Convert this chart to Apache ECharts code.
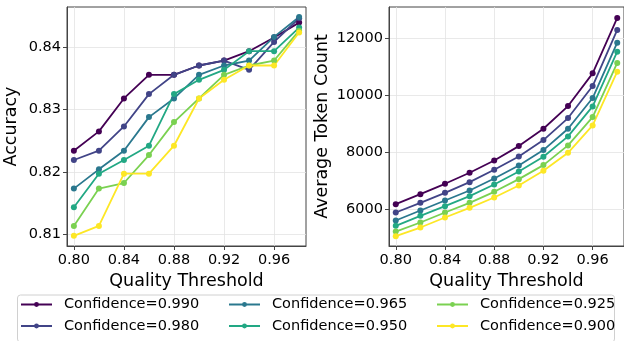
<!DOCTYPE html>
<html>
<head>
<meta charset="utf-8">
<script src="https://cdn.jsdelivr.net/npm/echarts@6/dist/echarts.min.js"></script>
<style>
  html, body { margin: 0; padding: 0; background: #fff; }
  #chart { width: 624px; height: 341px; }
</style>
</head>
<body>
<div id="chart"></div>
<script>
const thresholds = [0.80, 0.82, 0.84, 0.86, 0.88, 0.90, 0.92, 0.94, 0.96, 0.98];
const confidenceLabels = ['Confidence=0.990', 'Confidence=0.980', 'Confidence=0.965', 'Confidence=0.950', 'Confidence=0.925', 'Confidence=0.900'];
const colors = ['#440154', '#414487', '#2a788e', '#22a884', '#7ad151', '#fde725'];

const accuracy = [
  [0.8234, 0.8265, 0.8318, 0.8356, 0.8356, 0.8371, 0.8379, 0.8394, 0.8416, 0.8440],
  [0.8219, 0.8234, 0.8273, 0.8325, 0.8356, 0.8371, 0.8379, 0.8364, 0.8409, 0.8447],
  [0.8173, 0.8204, 0.8234, 0.8288, 0.8318, 0.8356, 0.8371, 0.8379, 0.8417, 0.8449],
  [0.8143, 0.8197, 0.8219, 0.8242, 0.8325, 0.8348, 0.8364, 0.8394, 0.8394, 0.8432],
  [0.8113, 0.8173, 0.8182, 0.8227, 0.8280, 0.8318, 0.8356, 0.8371, 0.8379, 0.8427],
  [0.8097, 0.8113, 0.8197, 0.8197, 0.8242, 0.8318, 0.8348, 0.8371, 0.8371, 0.8424],
];

const tokenCount = [
  [6187, 6538, 6901, 7287, 7719, 8222, 8830, 9626, 10772, 12713],
  [5895, 6234, 6585, 6959, 7392, 7860, 8433, 9205, 10327, 12292],
  [5614, 5965, 6316, 6667, 7088, 7544, 8082, 8830, 9906, 11848],
  [5427, 5778, 6117, 6468, 6877, 7333, 7848, 8561, 9614, 11532],
  [5228, 5544, 5895, 6234, 6620, 7064, 7556, 8246, 9240, 11135],
  [5064, 5368, 5719, 6058, 6421, 6842, 7357, 7988, 8947, 10830],
];

const xTicks = [0.80, 0.84, 0.88, 0.92, 0.96];
const accTicks = [0.81, 0.82, 0.83, 0.84];
const tokenTicks = [6000, 8000, 10000, 12000];

const font = 'DejaVu Sans';
const spine = '#444';

function axisBase(ticks, fmt) {
  return {
    type: 'value',
    axisLine: { show: true, lineStyle: { color: spine, width: 1 } },
    axisTick: { show: true, length: 4, lineStyle: { color: spine }, customValues: ticks },
    axisLabel: { customValues: ticks, formatter: fmt, color: '#000', fontFamily: font, fontSize: 14.5, margin: 6 },
    splitLine: { show: true, lineStyle: { color: '#e3e3e3', width: 0.8 } },
    nameLocation: 'middle',
    nameTextStyle: { color: '#000', fontFamily: font, fontSize: 17.5 },
  };
}

function xAxis(gridIndex) {
  return {
    ...axisBase(xTicks, (v) => v.toFixed(2)),
    gridIndex,
    min: 0.7945,
    max: 0.9855,
    name: 'Quality Threshold',
    nameGap: 24,
    axisLabel: { customValues: xTicks, formatter: (v) => v.toFixed(2), color: '#000', fontFamily: font, fontSize: 14.5, margin: 7 },
  };
}

function lineSeries(values, i, axisIndex) {
  return {
    type: 'line',
    name: confidenceLabels[i],
    xAxisIndex: axisIndex,
    yAxisIndex: axisIndex,
    data: thresholds.map((t, j) => [t, values[j]]),
    symbol: 'circle',
    symbolSize: 6,
    lineStyle: { color: colors[i], width: 1.8 },
    itemStyle: { color: colors[i] },
    emphasis: { disabled: true },
  };
}

function legend(names, left) {
  return {
    data: names,
    orient: 'vertical',
    left,
    top: 297,
    padding: 0,
    itemWidth: 31,
    itemHeight: 6,
    itemGap: 6.5,
    selectedMode: false,
    textStyle: { fontFamily: font, fontSize: 14.5, color: '#000', lineHeight: 14, padding: [0, 0, 0, 7] },
  };
}

const chart = echarts.init(document.getElementById('chart'), null, { renderer: 'canvas' });
chart.setOption({
  animation: false,
  color: colors,
  grid: [
    { left: 67, top: 7, width: 239, height: 239, show: true, borderColor: spine, borderWidth: 1, containLabel: false },
    { left: 389, top: 7, width: 239, height: 239, show: true, borderColor: spine, borderWidth: 1, containLabel: false },
  ],
  xAxis: [xAxis(0), xAxis(1)],
  yAxis: [
    {
      ...axisBase(accTicks, (v) => v.toFixed(2)),
      gridIndex: 0,
      min: 0.80807,
      max: 0.84651,
      name: 'Accuracy',
      nameGap: 47,
    },
    {
      ...axisBase(tokenTicks, (v) => String(v)),
      gridIndex: 1,
      min: 4721,
      max: 13097,
      name: 'Average Token Count',
      nameGap: 58,
    },
  ],
  legend: [
    legend(confidenceLabels.slice(0, 2), 20),
    legend(confidenceLabels.slice(2, 4), 228),
    legend(confidenceLabels.slice(4, 6), 436),
  ],
  graphic: [
    {
      type: 'rect',
      left: 15,
      top: 292.5,
      shape: { width: 597, height: 47, r: 3 },
      style: { fill: 'none', stroke: '#d0d0d0', lineWidth: 1 },
      z: 0,
    },
  ],
  series: [
    ...accuracy.map((vals, i) => lineSeries(vals, i, 0)),
    ...tokenCount.map((vals, i) => lineSeries(vals, i, 1)),
  ],
});
</script>
</body>
</html>
